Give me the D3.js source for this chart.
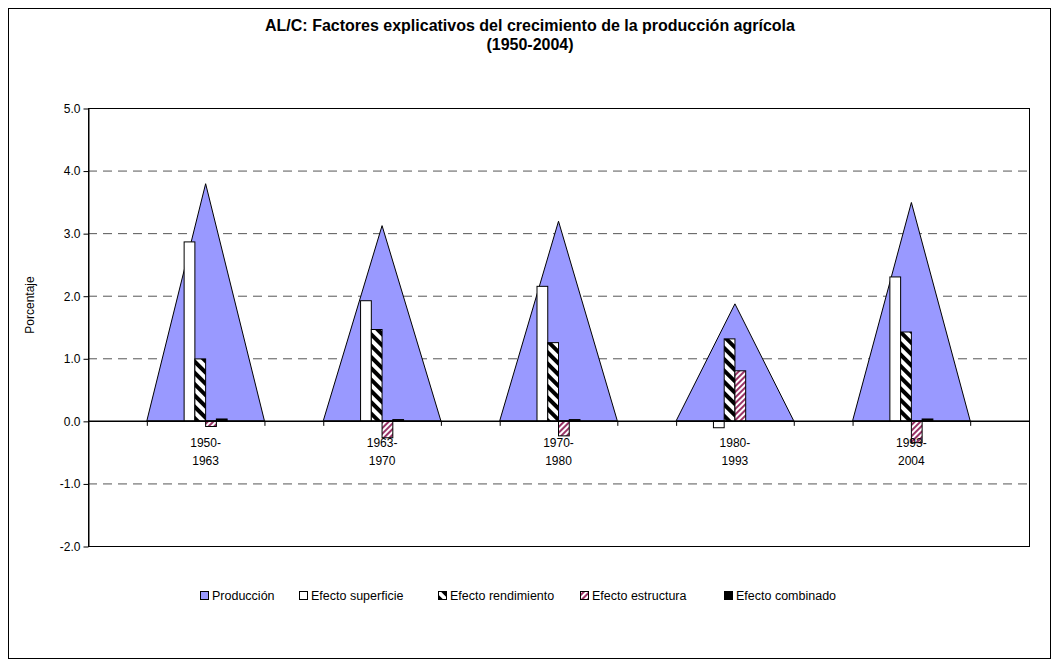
<!DOCTYPE html>
<html>
<head>
<meta charset="utf-8">
<script src="https://cdn.jsdelivr.net/npm/d3@7"></script>
<style>
  body { margin: 0; background: #fff; }
  svg { font-family: "Liberation Sans", Arial, sans-serif; }
</style>
</head>
<body>
<svg id="chart"></svg>
<script>
var width = 1060;
var height = 666;

// data
var periods = [["1950-", "1963"], ["1963-", "1970"], ["1970-", "1980"], ["1980-", "1993"], ["1993-", "2004"]];
var produccion = [3.79, 3.12, 3.19, 1.87, 3.49];
var superficie = [2.86, 1.92, 2.15, -0.11, 2.30];
var rendimiento = [0.99, 1.46, 1.25, 1.31, 1.42];
var estructura = [-0.09, -0.27, -0.24, 0.80, -0.35];
var combinado = [0.03, 0.02, 0.02, 0.00, 0.03];
var yTicks = [-2, -1, 0, 1, 2, 3, 4, 5];

var plotLeft = 88, plotRight = 1029, plotTop = 108, plotBottom = 546;

var svg = d3.select("#chart")
    .attr("width", width)
    .attr("height", height);

var defs = svg.append("defs");

// wide black/white diagonal stripes
var p1 = defs.append("pattern")
    .attr("id", "hatchBW")
    .attr("patternUnits", "userSpaceOnUse")
    .attr("width", 8).attr("height", 8)
    .attr("patternTransform", "rotate(-45)");
p1.append("rect").attr("width", 8).attr("height", 8).attr("fill", "#fff");
p1.append("rect").attr("width", 4).attr("height", 8).attr("fill", "#000");

// thin plum diagonal stripes
var p2 = defs.append("pattern")
    .attr("id", "hatchPink")
    .attr("patternUnits", "userSpaceOnUse")
    .attr("width", 4).attr("height", 4)
    .attr("patternTransform", "rotate(45)");
p2.append("rect").attr("width", 4).attr("height", 4).attr("fill", "#fff");
p2.append("rect").attr("width", 2).attr("height", 4).attr("fill", "#993366");

// outer frame
svg.append("rect")
    .attr("x", 8.5).attr("y", 8.5)
    .attr("width", 1042).attr("height", 650)
    .attr("fill", "none")
    .attr("stroke", "#000")
    .attr("stroke-width", 1);

var xScale = d3.scaleLinear().domain([0, 16]).range([plotLeft, plotRight]);
var yScale = d3.scaleLinear().domain([-2, 5]).range([plotBottom, plotTop]);

function center(i) { return 2 + 3 * i; }

// grid
svg.append("g")
  .selectAll("line")
  .data(yTicks.filter(d => d !== 0 && d !== 5 && d !== -2))
  .enter()
  .append("line")
    .attr("x1", plotLeft).attr("x2", plotRight)
    .attr("y1", d => yScale(d) + 0.5).attr("y2", d => yScale(d) + 0.5)
    .attr("stroke", "#555")
    .attr("stroke-dasharray", "9,6");

// production triangles (area series)
var area = d3.area()
    .x(d => xScale(d[0]))
    .y0(yScale(0))
    .y1(d => yScale(d[1]));

svg.append("g")
  .selectAll("path")
  .data(produccion)
  .enter()
  .append("path")
    .attr("d", (d, i) => area([[center(i) - 1, 0], [center(i), d], [center(i) + 1, 0]]))
    .attr("fill", "#9999ff")
    .attr("stroke", "#000")
    .attr("stroke-width", 1);

// bars
var series = [
  { name: "Efecto superficie", values: superficie, fill: "#fff" },
  { name: "Efecto rendimiento", values: rendimiento, fill: "url(#hatchBW)" },
  { name: "Efecto estructura", values: estructura, fill: "url(#hatchPink)" },
  { name: "Efecto combinado", values: combinado, fill: "#000" }
];

var groupWidth = 43;
var inner = d3.scaleBand()
    .domain(series.map(s => s.name))
    .range([-groupWidth / 2, groupWidth / 2]);

series.forEach(function(s) {
  svg.append("g")
    .selectAll("rect")
    .data(s.values)
    .enter()
    .append("rect")
      .attr("x", (d, i) => xScale(center(i)) + inner(s.name))
      .attr("width", inner.bandwidth())
      .attr("y", d => yScale(Math.max(0, d)))
      .attr("height", d => Math.abs(yScale(d) - yScale(0)))
      .attr("fill", s.fill)
      .attr("stroke", "#000")
      .attr("stroke-width", 1);
});

// plot border
svg.append("rect")
    .attr("x", plotLeft + 0.5).attr("y", plotTop + 0.5)
    .attr("width", plotRight - plotLeft).attr("height", plotBottom - plotTop)
    .attr("fill", "none")
    .attr("stroke", "#000");

// y axis (plain hyphen for negatives, as in the original)
var fmt = d3.formatLocale({ decimal: ".", thousands: ",", grouping: [3], currency: ["", ""], minus: "-" }).format(".1f");
var yAxis = d3.axisLeft(yScale)
    .tickValues(yTicks)
    .tickFormat(fmt)
    .tickSize(5)
    .tickSizeOuter(0);

var yg = svg.append("g")
    .attr("transform", "translate(" + (plotLeft + 0.5) + ",0.5)")
    .call(yAxis);
yg.selectAll("text").style("font-size", "12px").attr("fill", "#000");
yg.selectAll("line, path").attr("stroke", "#000");

// x axis line at 0
svg.append("line")
    .attr("x1", plotLeft).attr("x2", plotRight)
    .attr("y1", yScale(0) + 0.5).attr("y2", yScale(0) + 0.5)
    .attr("stroke", "#000")
    .attr("stroke-width", 1.5);

// ticks at triangle bases
var baseTicks = [];
produccion.forEach((d, i) => { baseTicks.push(center(i) - 1, center(i) + 1); });
svg.append("g")
  .selectAll("line")
  .data(baseTicks)
  .enter()
  .append("line")
    .attr("x1", d => xScale(d) + 0.5).attr("x2", d => xScale(d) + 0.5)
    .attr("y1", yScale(0)).attr("y2", yScale(0) + 5)
    .attr("stroke", "#000");

// category labels
var xl = svg.append("g")
  .selectAll("text")
  .data(periods)
  .enter()
  .append("text")
    .attr("x", (d, i) => xScale(center(i)))
    .attr("y", yScale(0) + 26)
    .style("text-anchor", "middle")
    .style("font-size", "12px");
xl.append("tspan").text(d => d[0]);
xl.append("tspan")
    .attr("x", (d, i) => xScale(center(i)))
    .attr("dy", "1.55em")
    .text(d => d[1]);

// title
svg.append("text")
    .attr("x", 530).attr("y", 31)
    .style("text-anchor", "middle")
    .style("font-size", "16px")
    .style("font-weight", "bold")
    .text("AL/C: Factores explicativos del crecimiento de la producción agrícola");
svg.append("text")
    .attr("x", 530).attr("y", 50)
    .style("text-anchor", "middle")
    .style("font-size", "16px")
    .style("font-weight", "bold")
    .text("(1950-2004)");

// y axis title
svg.append("text")
    .attr("transform", "rotate(-90)")
    .attr("x", -305)
    .attr("y", 34)
    .style("text-anchor", "middle")
    .style("font-size", "12px")
    .text("Porcentaje");

// legend
var legendItems = [{ name: "Producción", fill: "#9999ff" }].concat(series);
var legendX = [200, 299, 438, 580, 724];
var lg = svg.append("g")
  .selectAll("g")
  .data(legendItems)
  .enter()
  .append("g")
    .attr("transform", (d, i) => "translate(" + legendX[i] + ",600)");
lg.append("rect")
    .attr("x", 0.5).attr("y", -8.5)
    .attr("width", 8).attr("height", 8)
    .attr("fill", d => d.fill)
    .attr("stroke", "#000");
lg.append("text")
    .attr("x", 12).attr("y", 0)
    .style("font-size", "12.5px")
    .text(d => d.name);
</script>
</body>
</html>
